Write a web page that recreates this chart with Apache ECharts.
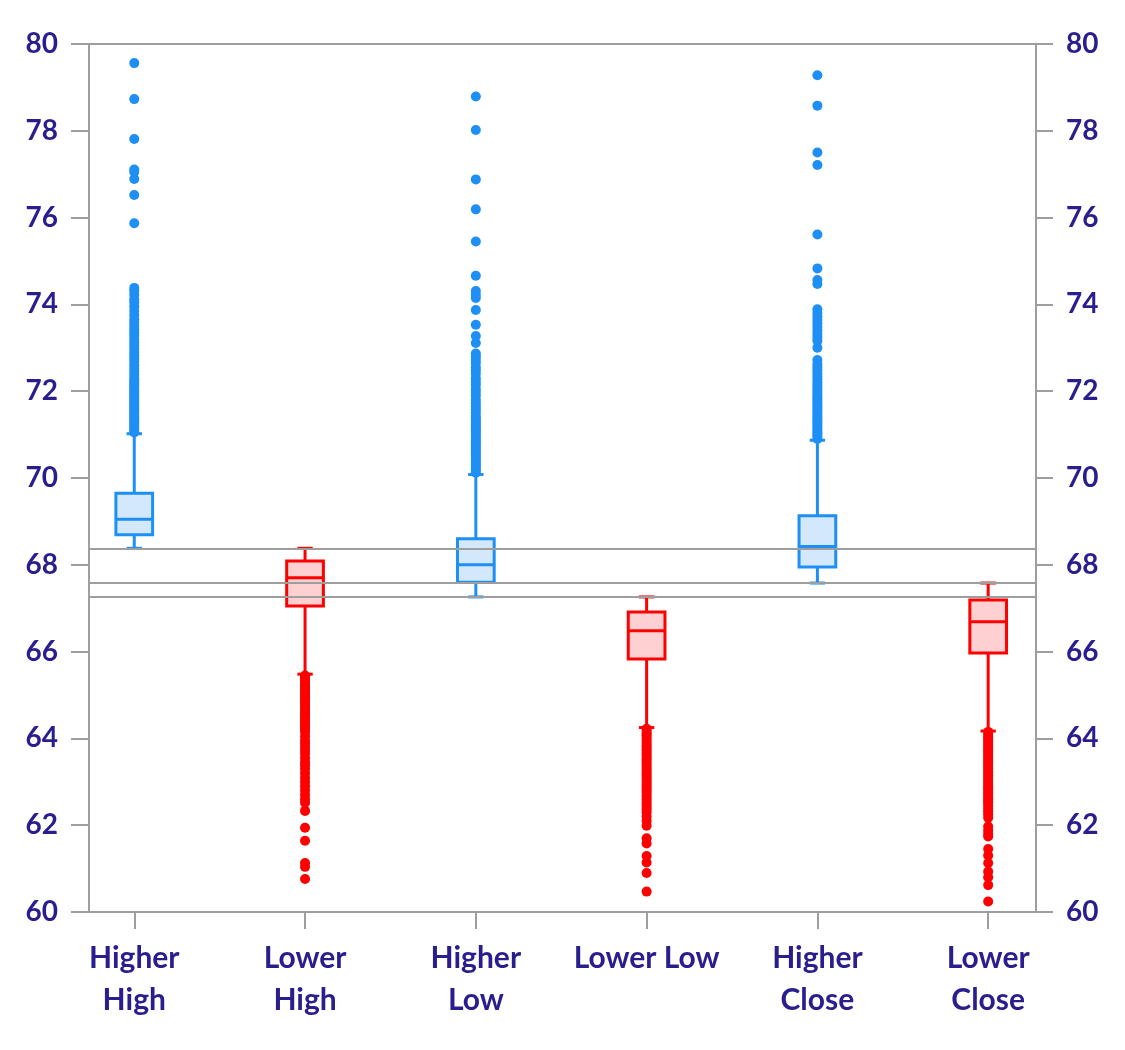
<!DOCTYPE html>
<html>
<head>
<meta charset="utf-8">
<script src="https://cdn.jsdelivr.net/npm/echarts@6/dist/echarts.min.js"></script>
<style>
html,body{margin:0;padding:0;background:#fff;}
#chart{width:1125px;height:1050px;}
</style>
</head>
<body>
<div id="chart"></div>
<script>
// ---- data ----
const categories = ['Higher\nHigh', 'Lower\nHigh', 'Higher\nLow', 'Lower Low', 'Higher\nClose', 'Lower\nClose'];
const yTicks = [60, 62, 64, 66, 68, 70, 72, 74, 76, 78, 80];
// [lower whisker, Q1, median, Q3, upper whisker]
const statsHigherHigh = [68.38, 68.69, 69.05, 69.65, 71.02];
const statsLowerHigh = [65.48, 67.05, 67.70, 68.09, 68.38];
const statsHigherLow = [67.26, 67.60, 68.00, 68.60, 70.08];
const statsLowerLow = [64.25, 65.83, 66.48, 66.91, 67.26];
const statsHigherClose = [67.58, 67.95, 68.42, 69.13, 70.87];
const statsLowerClose = [64.17, 65.97, 66.69, 67.19, 67.58];
const refLines = [68.38, 67.58, 67.26];

const outHigherHigh = [71.05,71.1,71.15,71.2,71.25,71.3,71.35,71.4,71.45,71.5,71.55,71.6,71.65,71.7,71.75,71.8,71.85,71.9,71.95,72.0,72.05,72.1,72.15,72.2,72.25,72.3,72.38,72.45,72.52,72.6,72.68,72.75,72.82,72.9,72.98,73.05,73.12,73.2,73.28,73.35,73.42,73.5,73.58,73.65,73.75,73.85,73.95,74.05,74.12,74.22,74.32,74.38,75.87,76.52,76.89,77.05,77.11,77.81,78.73,79.56];
const outLowerHigh = [65.45,65.4,65.35,65.3,65.25,65.2,65.15,65.1,65.05,65.0,64.95,64.9,64.85,64.8,64.75,64.7,64.65,64.6,64.55,64.5,64.45,64.4,64.35,64.3,64.25,64.2,64.15,64.05,63.95,63.88,63.8,63.72,63.65,63.55,63.45,63.38,63.3,63.2,63.1,63.0,62.9,62.8,62.7,62.6,62.52,62.33,61.94,61.64,61.13,61.04,60.76];
const outHigherLow = [70.12,70.17,70.22,70.27,70.32,70.37,70.42,70.47,70.52,70.57,70.62,70.67,70.72,70.77,70.82,70.87,70.92,70.97,71.02,71.07,71.12,71.17,71.22,71.27,71.32,71.37,71.42,71.5,71.58,71.65,71.72,71.8,71.9,71.98,72.05,72.15,72.22,72.3,72.4,72.48,72.55,72.65,72.72,72.8,72.87,73.11,73.27,73.53,73.87,74.15,74.22,74.31,74.66,75.45,76.19,76.88,78.02,78.79];
const outLowerLow = [64.22,64.17,64.12,64.07,64.02,63.97,63.92,63.87,63.82,63.77,63.72,63.67,63.62,63.57,63.52,63.47,63.42,63.37,63.32,63.27,63.22,63.17,63.12,63.07,63.02,62.97,62.92,62.87,62.82,62.77,62.72,62.66,62.6,62.54,62.48,62.42,62.36,62.3,62.2,62.1,61.99,61.7,61.58,61.29,61.14,60.9,60.47];
const outHigherClose = [70.9,70.95,71.0,71.05,71.1,71.15,71.2,71.25,71.3,71.35,71.4,71.45,71.5,71.55,71.6,71.65,71.7,71.75,71.8,71.85,71.9,71.96,72.02,72.08,72.14,72.2,72.27,72.34,72.41,72.48,72.55,72.62,72.72,73.0,73.16,73.24,73.32,73.4,73.48,73.56,73.64,73.72,73.8,73.89,74.47,74.56,74.83,75.61,77.21,77.5,78.58,79.28];
const outLowerClose = [64.15,64.1,64.05,64.0,63.95,63.9,63.85,63.8,63.75,63.7,63.65,63.6,63.55,63.5,63.45,63.4,63.35,63.3,63.25,63.2,63.15,63.1,63.05,63.0,62.95,62.9,62.85,62.8,62.75,62.7,62.65,62.6,62.55,62.5,62.44,62.38,62.32,62.25,62.17,61.97,61.88,61.8,61.74,61.45,61.3,61.13,60.93,60.8,60.62,60.24];

// ---- build ----
const higherIdx = [0, 2, 4];
const lowerIdx = [1, 3, 5];
const allStats = [statsHigherHigh, statsLowerHigh, statsHigherLow, statsLowerLow, statsHigherClose, statsLowerClose];
const allOut = [outHigherHigh, outLowerHigh, outHigherLow, outLowerLow, outHigherClose, outLowerClose];

const BLUE = '#1e8ff5', BLUE_FILL = '#d4e8fc';
const RED = '#ff0000', RED_FILL = '#ffd0d2';
const TEXT = '#2a1e8e';
const GRAY = '#9e9e9e';

function boxData(idx) { return idx.map(i => [i].concat(allStats[i])); }
function outData(idx) {
  const d = [];
  idx.forEach(i => allOut[i].forEach(v => d.push([i, v])));
  return d;
}
function makeRender(stroke, fill) {
  return function (params, api) {
    const x = api.value(0);
    const lo = api.coord([x, api.value(1)]);
    const q1 = api.coord([x, api.value(2)]);
    const md = api.coord([x, api.value(3)]);
    const q3 = api.coord([x, api.value(4)]);
    const hi = api.coord([x, api.value(5)]);
    const unit = api.size([1, 0])[0];
    const bw = unit * 0.215 / 2;
    const cw = unit * 0.09 / 2;
    const cx = lo[0];
    const ls = { stroke: stroke, lineWidth: 3, fill: null };
    return {
      type: 'group',
      children: [
        { type: 'line', shape: { x1: cx, y1: hi[1], x2: cx, y2: q3[1] }, style: ls },
        { type: 'line', shape: { x1: cx, y1: q1[1], x2: cx, y2: lo[1] }, style: ls },
        { type: 'line', shape: { x1: cx - cw, y1: hi[1], x2: cx + cw, y2: hi[1] }, style: ls },
        { type: 'line', shape: { x1: cx - cw, y1: lo[1], x2: cx + cw, y2: lo[1] }, style: ls },
        { type: 'rect', shape: { x: cx - bw, y: q3[1], width: bw * 2, height: q1[1] - q3[1] }, style: { fill: fill, stroke: stroke, lineWidth: 3 } },
        { type: 'line', shape: { x1: cx - bw, y1: md[1], x2: cx + bw, y2: md[1] }, style: ls }
      ]
    };
  };
}

const labelStyle = { color: TEXT, fontFamily: 'Lato', fontWeight: 'bold', fontSize: 28 };
const catLabelStyle = { color: TEXT, fontFamily: 'Lato', fontWeight: 'bold', fontSize: 30 };

const chart = echarts.init(document.getElementById('chart'), null, { renderer: 'canvas' });
chart.setOption({
  animation: false,
  backgroundColor: '#fff',
  grid: { left: 89, right: 89, top: 44, bottom: 138, show: true, borderColor: GRAY, borderWidth: 2, backgroundColor: 'transparent' },
  xAxis: {
    type: 'value', min: -0.265, max: 5.28,
    splitLine: { show: false },
    axisLine: { show: true, onZero: false, lineStyle: { color: GRAY, width: 2 } },
    axisTick: { show: true, length: 17, customValues: [0, 1, 2, 3, 4, 5], lineStyle: { color: GRAY, width: 2 } },
    axisLabel: Object.assign({ customValues: [0, 1, 2, 3, 4, 5], margin: 25, lineHeight: 42, verticalAlign: 'top',
      formatter: v => categories[Math.round(v)] }, catLabelStyle)
  },
  yAxis: [
    { type: 'value', position: 'left', min: yTicks[0], max: yTicks[yTicks.length - 1], interval: 2,
      splitLine: { show: false },
      axisLine: { show: true, onZero: false, lineStyle: { color: GRAY, width: 2 } },
      axisTick: { show: true, length: 18, lineStyle: { color: GRAY, width: 2 } },
      axisLabel: Object.assign({ margin: 31, padding: [0, 0, 10, 0] }, labelStyle) },
    { type: 'value', position: 'right', min: yTicks[0], max: yTicks[yTicks.length - 1], interval: 2,
      splitLine: { show: false },
      axisLine: { show: true, onZero: false, lineStyle: { color: GRAY, width: 2 } },
      axisTick: { show: true, length: 17, lineStyle: { color: GRAY, width: 2 } },
      axisLabel: Object.assign({ margin: 30, padding: [0, 0, 10, 0] }, labelStyle) }
  ],
  series: [
    { type: 'custom', name: 'higherBox', renderItem: makeRender(BLUE, BLUE_FILL), data: boxData(higherIdx), z: 2,
      encode: { x: 0, y: [1, 2, 3, 4, 5] } },
    { type: 'custom', name: 'lowerBox', renderItem: makeRender(RED, RED_FILL), data: boxData(lowerIdx), z: 2,
      encode: { x: 0, y: [1, 2, 3, 4, 5] } },
    { type: 'scatter', name: 'higherOut', data: outData(higherIdx), symbolSize: 10, itemStyle: { color: BLUE, opacity: 1 }, z: 3 },
    { type: 'scatter', name: 'lowerOut', data: outData(lowerIdx), symbolSize: 10, itemStyle: { color: RED, opacity: 1 }, z: 3 },
    { type: 'line', name: 'ref', data: [], z: 5,
      markLine: { silent: true, symbol: 'none', label: { show: false },
        lineStyle: { color: GRAY, width: 2, type: 'solid' },
        data: refLines.map(v => ({ yAxis: v })) } }
  ]
});
</script>
</body>
</html>
